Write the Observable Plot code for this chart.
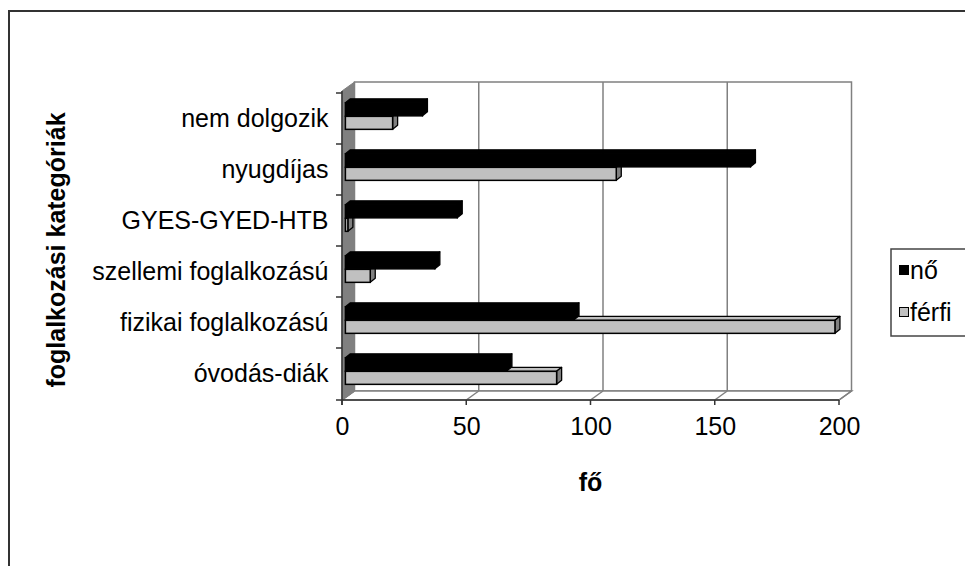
<!DOCTYPE html>
<html><head><meta charset="utf-8">
<script src="https://cdn.jsdelivr.net/npm/d3@7"></script>
<script src="https://cdn.jsdelivr.net/npm/@observablehq/plot@0.6"></script>
<style>
body{margin:0;width:965px;height:566px;overflow:hidden;position:relative;background:#fff;font-family:"Liberation Sans",Arial,sans-serif;}
#frame{position:absolute;left:8px;top:10px;width:1000px;height:600px;border:2px solid #333;}
#chart{position:absolute;left:0;top:0;}
#legend{position:absolute;left:0;top:0;}
</style></head><body>
<div id="frame"></div><div id="chart"></div><div id="legend"></div>
<script>
// ---- data ----
const categories = ["nem dolgozik","nyugdíjas","GYES-GYED-HTB","szellemi foglalkozású","fizikai foglalkozású","óvodás-diák"];
const noValues = [31,163,45,36,92,65];
const ferfiValues = [19,109,1,10,197,85];
const seriesNames = ["nő","férfi"];
const xTicks = [0,50,100,150,200];
const yTitle = "foglalkozási kategóriák";
const xTitle = "fő";

const noRows = categories.map((c,i)=>({category:c, value:noValues[i]}));
const ferfiRows = categories.map((c,i)=>({category:c, value:ferfiValues[i]}));

// 3D offsets
const DX = 12.5, DY = -9;      // wall depth
const FDX = 3.4, FDY = -2.4;   // bar front face depth
const BDX = 5, BDY = -4;       // bar depth
const BAR = 13.5;

function deco(index, scales, values, dims){
  const {x, y} = scales;
  const top = dims.marginTop, bottom = dims.height - dims.marginBottom;
  const xMax = xTicks[xTicks.length-1];
  const x0 = x(0), x1 = x(xMax);
  const g = d3.create("svg:g").attr("fill","none");
  g.append("rect").attr("x",x0+DX).attr("y",top+DY).attr("width",x1-x0).attr("height",bottom-top)
    .attr("fill","#fff").attr("stroke","#808080").attr("stroke-width",1.5);
  for (const t of xTicks) if (t>0 && t<xMax)
    g.append("line").attr("x1",x(t)+DX).attr("x2",x(t)+DX).attr("y1",top+DY).attr("y2",bottom+DY)
      .attr("stroke","#808080").attr("stroke-width",1.5);
  g.append("polygon").attr("points",[[x0,bottom],[x1,bottom],[x1+DX,bottom+DY],[x0+DX,bottom+DY]].join(" "))
    .attr("fill","#fff").attr("stroke","#808080").attr("stroke-width",1.5);
  for (const t of xTicks)
    g.append("line").attr("x1",x(t)).attr("x2",x(t)+DX).attr("y1",bottom).attr("y2",bottom+DY)
      .attr("stroke","#808080").attr("stroke-width",1.5);
  g.append("polygon").attr("points",[[x0,top],[x0+DX,top+DY],[x0+DX,bottom+DY],[x0,bottom]].join(" "))
    .attr("fill","#808080").attr("stroke","#808080").attr("stroke-width",1);
  return g.node();
}

function axesLines(index, scales, values, dims){
  const {x, y} = scales;
  const top = dims.marginTop, bottom = dims.height - dims.marginBottom;
  const xMax = xTicks[xTicks.length-1];
  const x0 = x(0), x1 = x(xMax);
  const g = d3.create("svg:g").attr("stroke","#333").attr("stroke-width",1.5);
  g.append("line").attr("x1",x0).attr("x2",x0).attr("y1",top).attr("y2",bottom+5);
  g.append("line").attr("x1",x0-6).attr("x2",x1).attr("y1",bottom).attr("y2",bottom);
  for (const c of categories)
    g.append("line").attr("x1",x0-6).attr("x2",x0).attr("y1",y(c)).attr("y2",y(c));
  for (const t of xTicks)
    g.append("line").attr("x1",x(t)).attr("x2",x(t)).attr("y1",bottom).attr("y2",bottom+5);
  return g.node();
}

function faces(vals, insetTop, insetBottom, topFill, sideFill){
  return (index, scales, values, dims) => {
    const {x, y} = scales;
    const bw = y.bandwidth();
    const g = d3.create("svg:g").attr("stroke","black").attr("stroke-width",1.3).attr("stroke-linejoin","round");
    categories.forEach((c,i)=>{
      const xa = x(0)+FDX, xb = x(vals[i])+FDX;
      const ya = y(c)+insetTop+FDY, yb = y(c)+bw-insetBottom+FDY;
      g.append("polygon").attr("points",[[xa,ya],[xa+BDX,ya+BDY],[xb+BDX,ya+BDY],[xb,ya]].join(" ")).attr("fill",topFill);
      g.append("polygon").attr("points",[[xb,ya],[xb+BDX,ya+BDY],[xb+BDX,yb+BDY],[xb,yb]].join(" ")).attr("fill",sideFill);
    });
    return g.node();
  };
}

const bandH = (400-91)/categories.length;
const half = bandH/2;
const noInTop = half-BAR, noInBot = half;
const feInTop = half, feInBot = half-BAR;

const plot = Plot.plot({
  width: 965, height: 566,
  marginLeft: 342, marginRight: 126, marginTop: 91, marginBottom: 166,
  style: {fontFamily:'"Liberation Sans", Arial, sans-serif', background:"transparent", color:"black"},
  x: {domain:[0, xTicks[xTicks.length-1]]},
  y: {domain: categories, padding: 0},
  marks: [
    deco,
    faces(ferfiValues, feInTop, feInBot, "#c0c0c0", "#808080"),
    Plot.barX(ferfiRows, {x:"value", y:"category", fill:"#c0c0c0", stroke:"black", strokeWidth:1.5,
      insetTop:feInTop, insetBottom:feInBot, dx:FDX, dy:FDY}),
    faces(noValues, noInTop, noInBot, "black", "black"),
    Plot.barX(noRows, {x:"value", y:"category", fill:"black", stroke:"black", strokeWidth:1.5,
      insetTop:noInTop, insetBottom:noInBot, dx:FDX, dy:FDY}),
    axesLines,
    Plot.axisY({tickSize:0, tickPadding:14, fontSize:25, label:null}),
    Plot.axisX({ticks:xTicks, tickSize:0, tickPadding:17, fontSize:25, label:null, tickFormat:d=>String(d)})
  ]
});
const svg = d3.select(plot);
svg.append("text").attr("transform","translate(56,250) rotate(-90)").attr("text-anchor","middle")
  .attr("dy","0.35em").attr("font-size",25).attr("font-weight","bold").attr("fill","black").text(yTitle);
svg.append("text").attr("x",590.5).attr("y",482).attr("text-anchor","middle")
  .attr("dy","0.35em").attr("font-size",25).attr("font-weight","bold").attr("fill","black").text(xTitle);
document.getElementById("chart").appendChild(plot);

// legend
const lg = d3.select("#legend").append("svg").attr("width",965).attr("height",566)
  .style("font-family",'"Liberation Sans", Arial, sans-serif');
lg.append("rect").attr("x",891).attr("y",249).attr("width",120).attr("height",87)
  .attr("fill","#fff").attr("stroke","#444").attr("stroke-width",1.5);
const legFills = ["black","#c0c0c0"];
seriesNames.forEach((s,i)=>{
  const yy = 270 + i*42;
  lg.append("rect").attr("x",899.5).attr("y",yy-4.5).attr("width",9).attr("height",9)
    .attr("fill",legFills[i]).attr("stroke","black").attr("stroke-width",1);
  lg.append("text").attr("x",910).attr("y",yy).attr("dy","0.35em").attr("font-size",25).attr("fill","black").text(s);
});
</script>
</body></html>
